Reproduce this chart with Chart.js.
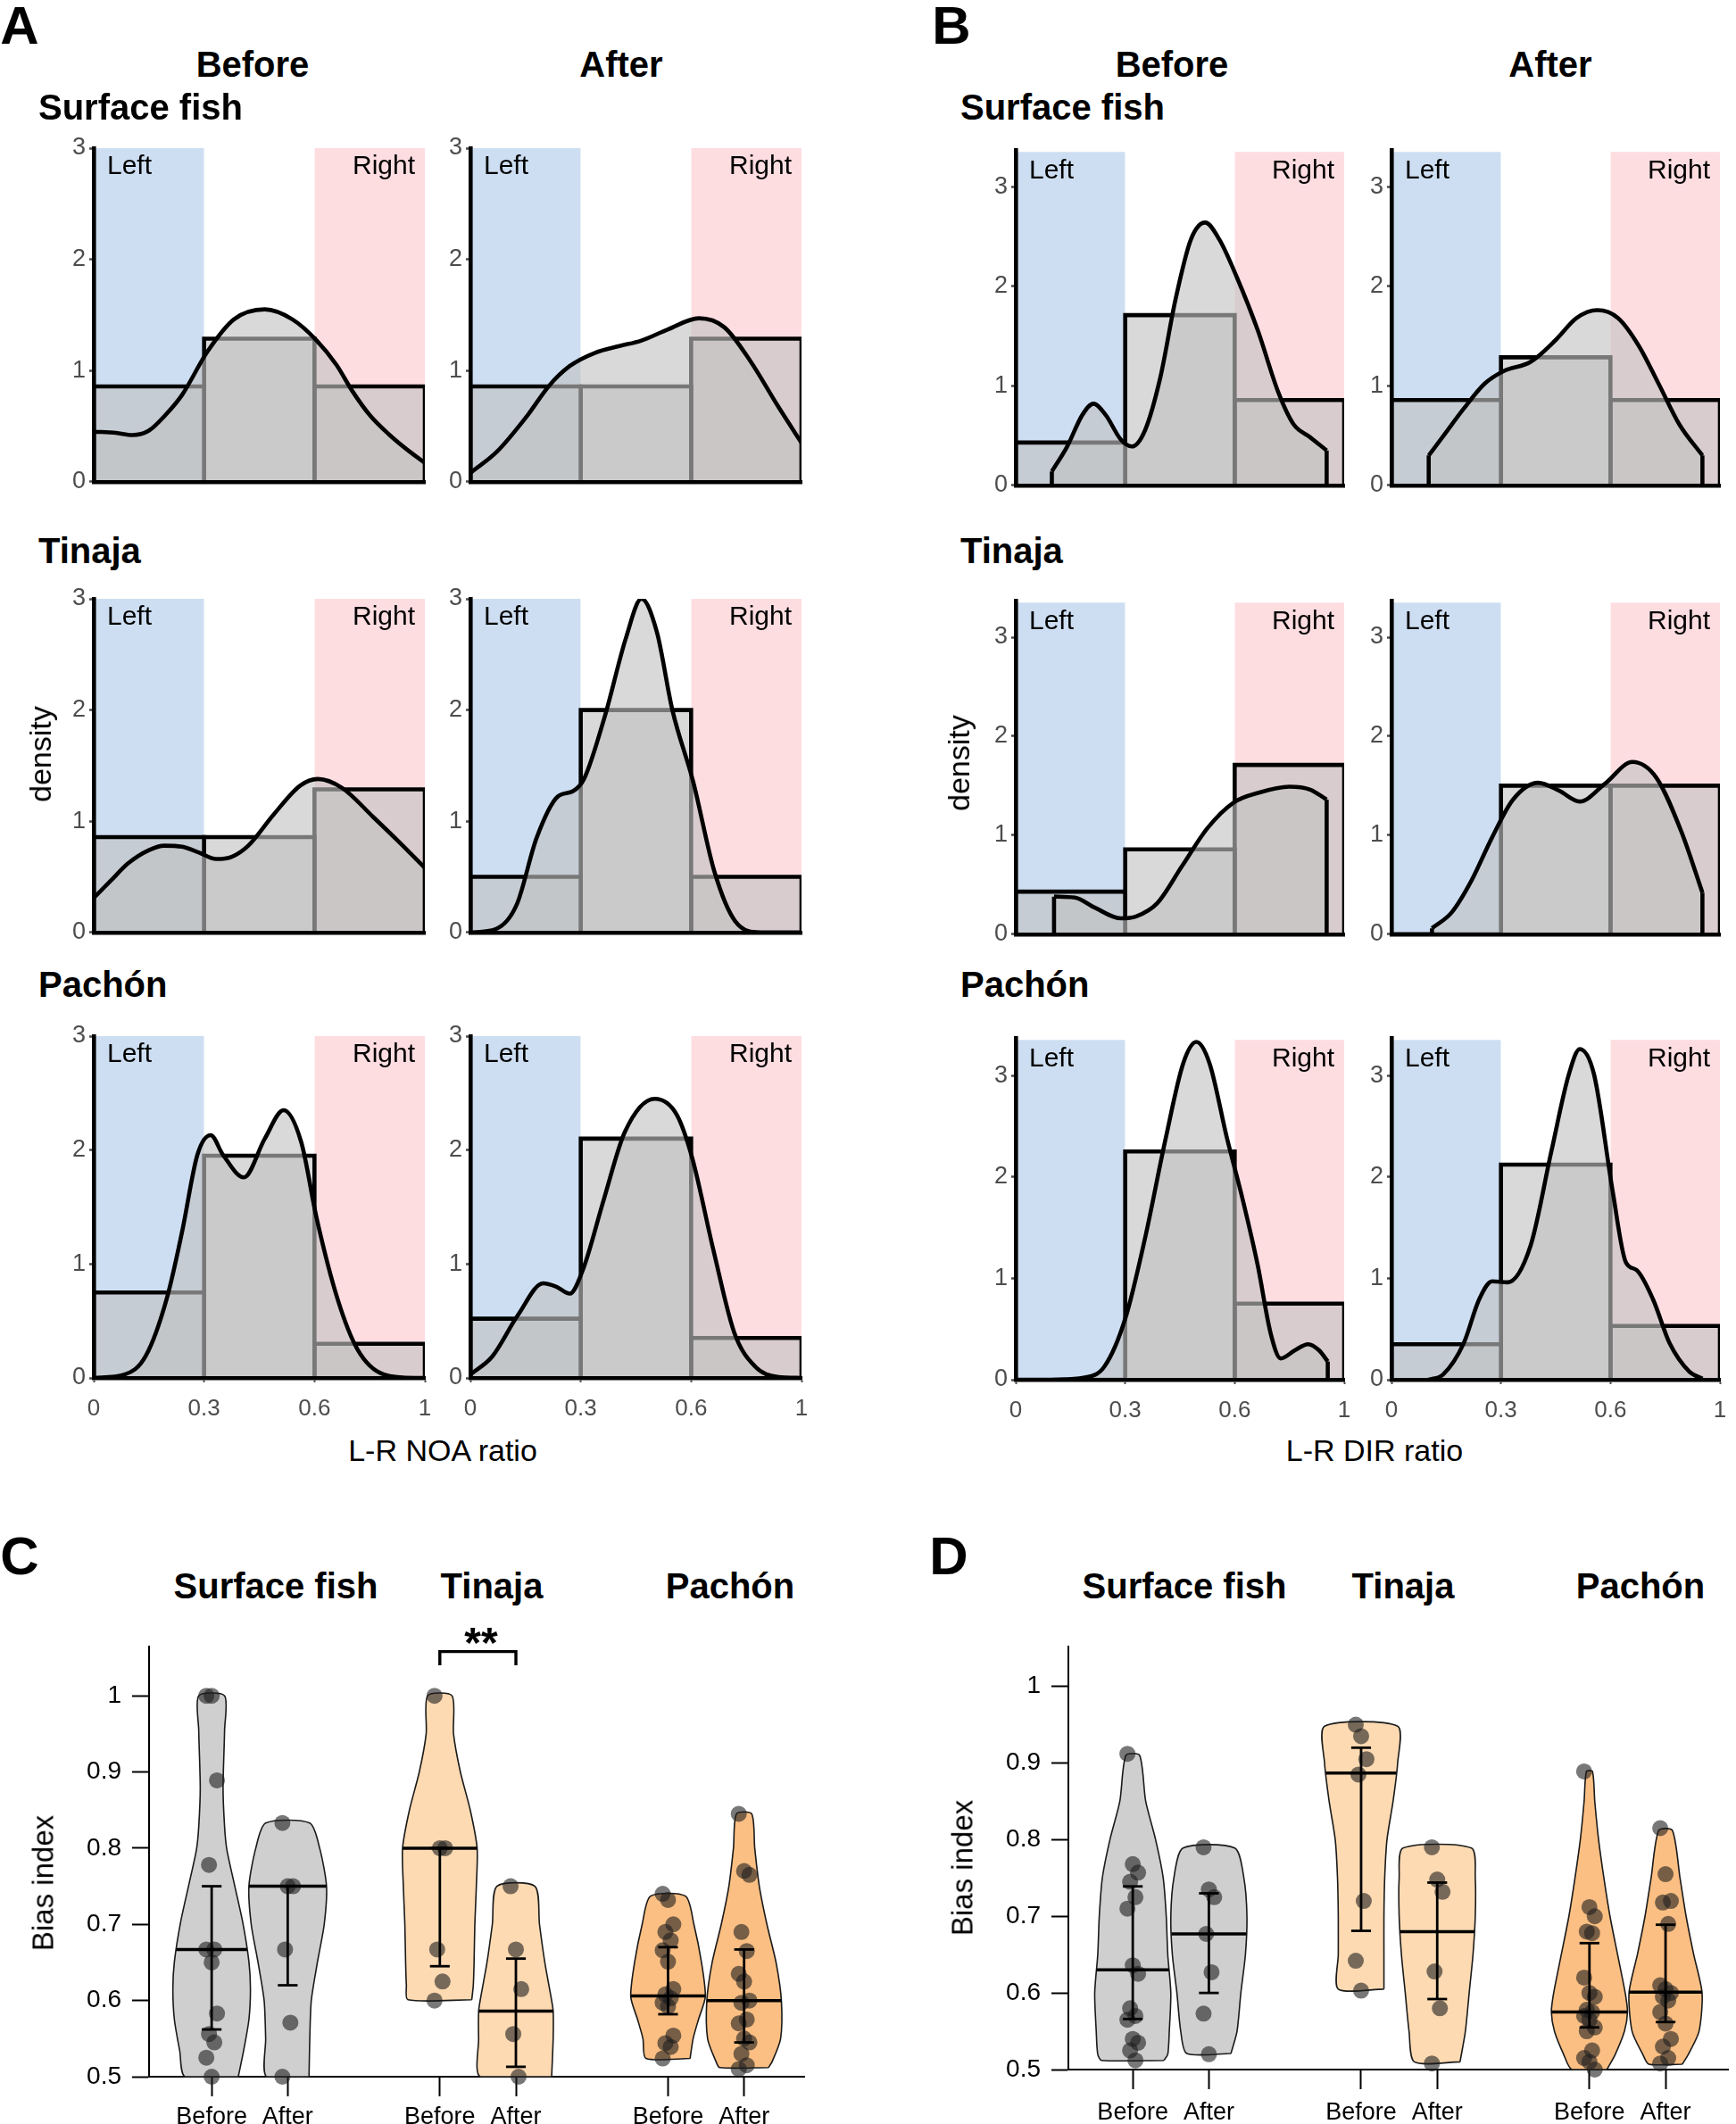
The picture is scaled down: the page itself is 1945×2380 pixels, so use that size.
<!DOCTYPE html>
<html><head><meta charset="utf-8">
<script src="https://cdn.jsdelivr.net/npm/chart.js@4.4.1/dist/chart.umd.min.js"></script>
<style>
html,body{margin:0;padding:0;background:#fff;}
#root{position:relative;width:1945px;height:2380px;overflow:hidden;background:#fff;font-family:"Liberation Sans",Arial,Helvetica,sans-serif;}
canvas{position:absolute;}
.t{position:absolute;white-space:nowrap;line-height:1;color:#000;}
</style></head><body><div id="root"></div>
<script>
// ===================== DATA =====================
// Histogram x axis: three equal-width bins with these edge labels
const binLabels = ['0', '0.3', '0.6', '1'];
const binEdges = [0, 1, 2, 3];
const regionNames = ['Left', 'Right'];
const histYTicks = [0, 1, 2, 3];

// Panel A (L-R NOA ratio): histogram densities per bin [left, middle, right]
const histA_surface_before = [0.857, 1.286, 0.857];
const histA_surface_after  = [0.857, 0.857, 1.286];
const histA_tinaja_before  = [0.857, 0.857, 1.286];
const histA_tinaja_after   = [0.5, 2.0, 0.5];
const histA_pachon_before  = [0.75, 1.95, 0.30];
const histA_pachon_after   = [0.52, 2.10, 0.35];
// Panel B (L-R DIR ratio)
const histB_surface_before = [0.43, 1.71, 0.857];
const histB_surface_after  = [0.857, 1.286, 0.857];
const histB_tinaja_before  = [0.43, 0.857, 1.71];
const histB_tinaja_after   = [0, 1.5, 1.5];
const histB_pachon_before  = [0, 2.25, 0.75];
const histB_pachon_after   = [0.35, 2.12, 0.53];

// Density curves [position on bin axis, density]
const densA_surface_before = [[0,0.45],[0.2,0.44],[0.35,0.42],[0.5,0.46],[0.65,0.6],[0.8,0.78],[1.03,1.17],[1.27,1.46],[1.55,1.55],[1.8,1.46],[2.02,1.27],[2.2,1.05],[2.34,0.82],[2.5,0.6],[2.67,0.43],[2.85,0.28],[3.0,0.17]];
const densA_surface_after  = [[0,0.08],[0.24,0.27],[0.52,0.6],[0.71,0.86],[0.9,1.04],[1.13,1.16],[1.35,1.22],[1.55,1.27],[1.79,1.37],[2.07,1.47],[2.3,1.39],[2.54,1.08],[2.78,0.69],[3.0,0.35]];
const densA_tinaja_before  = [[0,0.31],[0.15,0.46],[0.31,0.62],[0.5,0.74],[0.64,0.78],[0.8,0.77],[0.95,0.72],[1.11,0.66],[1.25,0.68],[1.4,0.78],[1.63,1.06],[1.87,1.32],[2.03,1.38],[2.25,1.3],[2.53,1.04],[2.77,0.81],[3.0,0.58]];
const densA_tinaja_after   = [[0,0],[0.23,0.03],[0.42,0.25],[0.6,0.85],[0.79,1.22],[0.93,1.27],[1.03,1.38],[1.22,1.95],[1.41,2.65],[1.55,3.0],[1.69,2.7],[1.83,2.0],[2.02,1.35],[2.21,0.55],[2.4,0.1],[2.63,0.0],[3.0,0.0]];
const densA_pachon_before  = [[0,0],[0.28,0.03],[0.47,0.19],[0.66,0.69],[0.8,1.28],[0.94,1.96],[1.06,2.13],[1.17,1.96],[1.36,1.76],[1.55,2.1],[1.72,2.35],[1.88,2.07],[2.02,1.4],[2.21,0.69],[2.39,0.25],[2.63,0.03],[2.91,0],[3,0]];
const densA_pachon_after   = [[0,0.03],[0.2,0.19],[0.43,0.55],[0.66,0.83],[0.78,0.8],[0.9,0.74],[1.02,0.95],[1.21,1.57],[1.4,2.16],[1.67,2.45],[1.87,2.31],[2.01,1.93],[2.2,1.13],[2.39,0.4],[2.58,0.1],[2.78,0.01],[3.0,0]];
const densB_surface_before = [[0.33,0.14],[0.47,0.39],[0.61,0.71],[0.71,0.82],[0.82,0.71],[0.96,0.46],[1.06,0.39],[1.18,0.55],[1.32,1.08],[1.46,1.87],[1.6,2.47],[1.73,2.64],[1.86,2.47],[2.02,2.09],[2.21,1.56],[2.4,0.93],[2.54,0.61],[2.68,0.49],[2.84,0.35]];
const densB_surface_after  = [[0.34,0.3],[0.47,0.49],[0.66,0.77],[0.85,1.02],[1.03,1.15],[1.27,1.24],[1.5,1.46],[1.69,1.68],[1.88,1.76],[2.07,1.68],[2.26,1.4],[2.44,1.02],[2.63,0.61],[2.84,0.3]];
const densB_tinaja_before  = [[0.35,0.38],[0.54,0.37],[0.72,0.27],[0.96,0.16],[1.1,0.18],[1.29,0.31],[1.52,0.69],[1.75,1.07],[1.99,1.33],[2.22,1.43],[2.5,1.49],[2.69,1.46],[2.84,1.36]];
const densB_tinaja_after   = [[0.37,0.06],[0.55,0.22],[0.73,0.54],[0.92,0.98],[1.11,1.36],[1.34,1.53],[1.53,1.45],[1.72,1.34],[1.95,1.52],[2.2,1.74],[2.42,1.58],[2.65,1.03],[2.84,0.42]];
const densB_pachon_before  = [[0.34,0.0],[0.62,0.02],[0.81,0.13],[1.0,0.6],[1.18,1.39],[1.37,2.38],[1.53,3.12],[1.65,3.33],[1.77,3.12],[1.93,2.38],[2.07,1.79],[2.21,1.13],[2.33,0.45],[2.42,0.21],[2.55,0.29],[2.67,0.35],[2.77,0.29],[2.85,0.18]];
const densB_pachon_after   = [[0.34,0.0],[0.47,0.05],[0.66,0.36],[0.8,0.79],[0.92,0.97],[1.06,0.96],[1.27,1.32],[1.46,2.25],[1.62,3.01],[1.72,3.26],[1.85,3.01],[2.02,1.86],[2.14,1.16],[2.24,1.08],[2.39,0.79],[2.54,0.36],[2.72,0.08],[2.84,0.01]];

// Panels C / D: categories
const catPos = [1, 2, 4, 5, 7, 8];
const catLabels = ['Before', 'After', 'Before', 'After', 'Before', 'After'];
const groupNames = ['Surface fish', 'Tinaja', 'Pachón'];
const biasTicks = [0.5, 0.6, 0.7, 0.8, 0.9, 1.0];

// Panel C: individual bias index values
const C_surface_before = [1.0, 1.0, 0.889, 0.778, 0.667, 0.667, 0.65, 0.583, 0.556, 0.545, 0.525, 0.5];
const C_surface_after  = [0.833, 0.75, 0.75, 0.667, 0.571, 0.5];
const C_tinaja_before  = [1.0, 0.8, 0.8, 0.667, 0.625, 0.6];
const C_tinaja_after   = [0.75, 0.667, 0.615, 0.556, 0.5];
const C_pachon_before  = [0.74, 0.732, 0.70, 0.69, 0.679, 0.666, 0.651, 0.615, 0.608, 0.603, 0.597, 0.592, 0.554, 0.544, 0.539, 0.524];
const C_pachon_after   = [0.845, 0.77, 0.765, 0.69, 0.665, 0.635, 0.625, 0.6, 0.597, 0.575, 0.57, 0.55, 0.545, 0.53, 0.515, 0.51];
// Panel C: [median, lower quartile, upper quartile]
const C_stats = [[0.667, 0.562, 0.75], [0.75, 0.62, 0.75], [0.8, 0.645, 0.8], [0.586, 0.513, 0.655], [0.606, 0.582, 0.67], [0.6, 0.545, 0.667]];
// Panel C: violin outlines (bias index level, half width)
const C_vY_surface_before = [0.5, 0.534, 0.575, 0.615, 0.651, 0.702, 0.752, 0.798, 0.828, 0.879, 0.955, 1.0];
const C_vW_surface_before = [0.35, 0.42, 0.49, 0.51, 0.49, 0.41, 0.30, 0.20, 0.17, 0.15, 0.17, 0.17];
const C_vY_surface_after  = [0.5, 0.55, 0.6, 0.65, 0.7, 0.75, 0.8, 0.833];
const C_vW_surface_after  = [0.28, 0.29, 0.31, 0.39, 0.48, 0.51, 0.42, 0.29];
const C_vY_tinaja_before  = [0.601, 0.62, 0.65, 0.7, 0.75, 0.8, 0.85, 0.9, 0.95, 1.0];
const C_vW_tinaja_before  = [0.42, 0.44, 0.45, 0.46, 0.48, 0.49, 0.40, 0.27, 0.18, 0.16];
const C_vY_tinaja_after   = [0.5, 0.55, 0.586, 0.6, 0.65, 0.7, 0.75];
const C_vW_tinaja_after   = [0.47, 0.49, 0.49, 0.47, 0.38, 0.31, 0.25];
const C_vY_pachon_before  = [0.524, 0.55, 0.575, 0.605, 0.65, 0.7, 0.737];
const C_vW_pachon_before  = [0.29, 0.33, 0.40, 0.49, 0.44, 0.34, 0.23];
const C_vY_pachon_after   = [0.512, 0.52, 0.55, 0.6, 0.65, 0.7, 0.75, 0.8, 0.845];
const C_vW_pachon_after   = [0.32, 0.37, 0.48, 0.49, 0.42, 0.30, 0.20, 0.14, 0.10];

// Panel D: individual bias index values
const D_surface_before = [0.912, 0.768, 0.757, 0.745, 0.725, 0.71, 0.636, 0.625, 0.58, 0.57, 0.565, 0.54, 0.535, 0.525, 0.512];
const D_surface_after  = [0.79, 0.735, 0.725, 0.677, 0.627, 0.573, 0.52];
const D_tinaja_before  = [0.95, 0.935, 0.905, 0.885, 0.72, 0.642, 0.603];
const D_tinaja_after   = [0.79, 0.748, 0.732, 0.628, 0.58, 0.508];
const D_pachon_before  = [0.889, 0.712, 0.70, 0.68, 0.678, 0.62, 0.60, 0.595, 0.578, 0.575, 0.57, 0.565, 0.555, 0.55, 0.525, 0.515, 0.51, 0.5];
const D_pachon_after   = [0.815, 0.755, 0.72, 0.718, 0.69, 0.61, 0.605, 0.6, 0.595, 0.59, 0.575, 0.56, 0.54, 0.53, 0.515, 0.508];
const D_stats = [[0.63, 0.566, 0.739], [0.677, 0.60, 0.73], [0.887, 0.681, 0.92], [0.68, 0.592, 0.744], [0.575, 0.555, 0.665], [0.601, 0.562, 0.689]];
const D_vY_surface_before = [0.512, 0.52, 0.55, 0.6, 0.65, 0.7, 0.75, 0.8, 0.85, 0.91];
const D_vW_surface_before = [0.41, 0.46, 0.48, 0.50, 0.46, 0.44, 0.40, 0.30, 0.17, 0.09];
const D_vY_surface_after  = [0.521, 0.55, 0.6, 0.65, 0.7, 0.75, 0.789];
const D_vW_surface_after  = [0.29, 0.37, 0.42, 0.48, 0.50, 0.46, 0.34];
const D_vY_tinaja_before  = [0.605, 0.65, 0.7, 0.75, 0.8, 0.85, 0.9, 0.948];
const D_vW_tinaja_before  = [0.30, 0.30, 0.30, 0.31, 0.34, 0.42, 0.48, 0.48];
const D_vY_tinaja_after   = [0.51, 0.55, 0.6, 0.65, 0.7, 0.75, 0.789];
const D_vW_tinaja_after   = [0.30, 0.37, 0.42, 0.47, 0.50, 0.50, 0.45];
const D_vY_pachon_before  = [0.5, 0.52, 0.55, 0.575, 0.6, 0.65, 0.7, 0.75, 0.8, 0.85, 0.889];
const D_vW_pachon_before  = [0.23, 0.34, 0.46, 0.50, 0.47, 0.37, 0.27, 0.19, 0.12, 0.07, 0.04];
const D_vY_pachon_after   = [0.507, 0.52, 0.55, 0.6, 0.65, 0.7, 0.75, 0.812];
const D_vW_pachon_after   = [0.22, 0.30, 0.44, 0.48, 0.37, 0.27, 0.19, 0.09];

// ===================== RENDERING =====================
const FONT = '"Liberation Sans", Arial, Helvetica, sans-serif';
Chart.defaults.font.family = FONT;
Chart.defaults.animation = false;
const root = document.getElementById('root');

const BLUE = 'rgb(206,222,242)';
const PINK = 'rgb(254,221,225)';
const GREYFILL = 'rgba(193,193,193,0.62)';
const TICKGREY = '#4d4d4d';
const LW = 4.6;

function addText(txt, x, y, o) {
  const d = document.createElement('div');
  d.className = 't';
  d.textContent = txt;
  d.style.fontSize = o.size + 'px';
  d.style.fontWeight = o.bold ? 'bold' : 'normal';
  d.style.left = x + 'px';
  d.style.top = y + 'px';
  let tf = o.align === 'left' ? 'translate(0,-50%)' : (o.align === 'top' ? 'translate(-50%,0)' : 'translate(-50%,-50%)');
  if (o.rotate) tf += ' rotate(' + o.rotate + 'deg)';
  d.style.transform = tf;
  root.appendChild(d);
}

function makeCanvas(area, pad) {
  const c = document.createElement('canvas');
  const w = area.r - area.l + pad.l + pad.r, h = area.b - area.t + pad.t + pad.b;
  c.width = w; c.height = h;
  c.style.left = (area.l - pad.l) + 'px';
  c.style.top = (area.t - pad.t) + 'px';
  c.style.width = w + 'px';
  c.style.height = h + 'px';
  root.appendChild(c);
  return c;
}

function histChart(area, o) {
  const pad = {l: 62, t: 26, r: 26, b: o.showX ? 60 : 12};
  const c = makeCanvas(area, pad);
  const ds = [];
  [[binEdges[0], binEdges[1], BLUE], [binEdges[2], binEdges[3], PINK]].forEach(([a, b, col]) => ds.push({
    data: [{x: a, y: 0}, {x: a, y: o.regionTop}, {x: b, y: o.regionTop}, {x: b, y: 0}],
    fill: 'origin', backgroundColor: col, borderColor: 'transparent', borderWidth: 0,
    pointRadius: 0, tension: 0, order: 5
  }));
  o.hist.forEach((h, i) => ds.push({
    data: [{x: binEdges[i], y: 0}, {x: binEdges[i], y: h}, {x: binEdges[i + 1], y: h}, {x: binEdges[i + 1], y: 0}],
    fill: 'origin', backgroundColor: GREYFILL, borderColor: '#000', borderWidth: LW,
    borderJoinStyle: 'miter', pointRadius: 0, tension: 0, order: 4
  }));
  const d = o.dens;
  ds.push({
    data: d.map(p => ({x: p[0], y: p[1]})),
    fill: 'origin', backgroundColor: GREYFILL, borderColor: '#000', borderWidth: LW,
    cubicInterpolationMode: 'monotone', pointRadius: 0, order: 3
  });
  [d[0], d[d.length - 1]].forEach(p => ds.push({
    data: [{x: p[0], y: 0}, {x: p[0], y: p[1]}],
    fill: false, borderColor: '#000', borderWidth: LW, pointRadius: 0, tension: 0, order: 2
  }));
  const labelPlugin = {
    id: 'regionLabels',
    afterDatasetsDraw(chart) {
      const {ctx, chartArea: a} = chart;
      ctx.save();
      ctx.font = '30px ' + FONT;
      ctx.fillStyle = '#000';
      ctx.textBaseline = 'middle';
      ctx.textAlign = 'left';
      ctx.fillText(regionNames[0], a.left + 15, a.top + o.labelDy);
      ctx.textAlign = 'right';
      ctx.fillText(regionNames[1], a.right - 11, a.top + o.labelDy);
      ctx.restore();
    }
  };
  new Chart(c, {
    type: 'line',
    data: {datasets: ds},
    plugins: [labelPlugin],
    options: {
      responsive: false, animation: false, events: [],
      layout: {padding: {left: 0, top: pad.t, right: pad.r, bottom: 0}},
      plugins: {legend: {display: false}, tooltip: {enabled: false}},
      scales: {
        x: {
          type: 'linear', min: binEdges[0], max: binEdges[3],
          afterBuildTicks: s => { s.ticks = binEdges.map(v => ({value: v})); },
          ticks: {display: o.showX, color: TICKGREY, font: {size: 26}, padding: 14, maxRotation: 0, autoSkip: false,
                  callback: v => binLabels[binEdges.indexOf(v)]},
          grid: {drawOnChartArea: false, drawTicks: o.showX, tickLength: 5, tickColor: TICKGREY, tickWidth: 2},
          border: {display: true, color: '#000', width: LW, z: 2},
          afterFit: s => { s.height = pad.b; }
        },
        y: {
          type: 'linear', min: 0, max: o.yMax,
          afterBuildTicks: s => { s.ticks = histYTicks.map(v => ({value: v})); },
          ticks: {color: TICKGREY, font: {size: 27}, padding: 4, autoSkip: false, callback: v => String(v)},
          grid: {drawOnChartArea: false, tickLength: 5, tickColor: TICKGREY, tickWidth: 2.5},
          border: {display: true, color: '#000', width: LW, z: 2},
          afterFit: s => { s.width = pad.l; }
        }
      }
    }
  });
}

function widthAt(py, pw, y) {
  if (y <= py[0]) return pw[0];
  for (let i = 1; i < py.length; i++) {
    if (y <= py[i]) { const f = (y - py[i - 1]) / (py[i] - py[i - 1]); return pw[i - 1] + f * (pw[i] - pw[i - 1]); }
  }
  return pw[pw.length - 1];
}
const jit = i => (((i * 7) % 5) - 2) * 0.035;

function violinChart(area, o) {
  const pad = {l: 110, t: 45, r: 0, b: 2380 - area.b};
  const c = makeCanvas(area, pad);
  const ds = [];
  o.groups.forEach((g, gi) => {
    const pos = catPos[gi];
    const poly = [];
    for (let i = 0; i < g.vy.length; i++) poly.push({x: pos + g.vw[i], y: g.vy[i]});
    for (let i = g.vy.length - 1; i >= 0; i--) poly.push({x: pos - g.vw[i], y: g.vy[i]});
    poly.push(poly[0]);
    ds.push({data: poly, fill: 'shape', backgroundColor: g.color, borderColor: '#1a1a1a', borderWidth: 1.6,
             pointRadius: 0, tension: 0.25, order: 4, clip: false});
    ds.push({data: g.pts.map((v, i) => ({x: pos + jit(i), y: v})), showLine: false, pointRadius: 9,
             pointBackgroundColor: 'rgba(30,30,30,0.6)', pointBorderColor: 'transparent', pointBorderWidth: 0,
             order: 3, clip: false});
    const [med, lo, hi] = g.stats;
    const cap = 0.13;
    [[{x: pos, y: lo}, {x: pos, y: hi}], [{x: pos - cap, y: hi}, {x: pos + cap, y: hi}], [{x: pos - cap, y: lo}, {x: pos + cap, y: lo}]]
      .forEach(seg => ds.push({data: seg, borderColor: '#000', borderWidth: 2.8, pointRadius: 0, fill: false, order: 2, clip: false}));
    const wm = widthAt(g.vy, g.vw, med);
    ds.push({data: [{x: pos - wm, y: med}, {x: pos + wm, y: med}], borderColor: '#000', borderWidth: 3.5,
             pointRadius: 0, fill: false, order: 1, clip: false});
  });
  if (o.bracket) {
    const [a, b, yl, yh] = o.bracket;
    ds.push({data: [{x: a, y: yl}, {x: a, y: yh}, {x: b, y: yh}, {x: b, y: yl}], borderColor: '#000', borderWidth: 3.4,
             borderJoinStyle: 'miter', pointRadius: 0, fill: false, tension: 0, order: 1, clip: false});
  }
  new Chart(c, {
    type: 'line',
    data: {datasets: ds},
    options: {
      responsive: false, animation: false, events: [],
      layout: {padding: {left: 0, top: pad.t, right: pad.r, bottom: 0}},
      plugins: {legend: {display: false}, tooltip: {enabled: false}},
      scales: {
        x: {
          type: 'linear', min: o.xMin, max: o.xMax,
          afterBuildTicks: s => { s.ticks = catPos.map(v => ({value: v})); },
          ticks: {color: '#000', font: {size: 27}, padding: o.xPad, maxRotation: 0, autoSkip: false,
                  callback: v => catLabels[catPos.indexOf(v)]},
          grid: {drawOnChartArea: false, tickLength: 22, tickColor: '#000', tickWidth: 2},
          border: {display: true, color: '#000', width: 2},
          afterFit: s => { s.height = pad.b; }
        },
        y: {
          type: 'linear', min: 0.5, max: o.yMax,
          afterBuildTicks: s => { s.ticks = biasTicks.map(v => ({value: v})); },
          ticks: {color: '#000', font: {size: 28}, padding: 12, autoSkip: false,
                  callback: v => String(Math.round(v * 10) / 10)},
          grid: {drawOnChartArea: false, tickLength: 19, tickColor: '#000', tickWidth: 2},
          border: {display: true, color: '#000', width: 2},
          afterFit: s => { s.width = pad.l; }
        }
      }
    }
  });
}

// ---------- Panels A & B ----------
const colsA = [{l: 105, r: 476}, {l: 527, r: 898}];
const colsB = [{l: 1138, r: 1506}, {l: 1559, r: 1927}];
const rowsA = [{t: 166, b: 548}, {t: 671, b: 1053}, {t: 1161, b: 1544}];
const rowsB = [{t: 168, b: 552}, {t: 673, b: 1055}, {t: 1163, b: 1546}];
const histA = [[histA_surface_before, histA_surface_after], [histA_tinaja_before, histA_tinaja_after], [histA_pachon_before, histA_pachon_after]];
const densA = [[densA_surface_before, densA_surface_after], [densA_tinaja_before, densA_tinaja_after], [densA_pachon_before, densA_pachon_after]];
const histB = [[histB_surface_before, histB_surface_after], [histB_tinaja_before, histB_tinaja_after], [histB_pachon_before, histB_pachon_after]];
const densB = [[densB_surface_before, densB_surface_after], [densB_tinaja_before, densB_tinaja_after], [densB_pachon_before, densB_pachon_after]];

for (let r = 0; r < 3; r++) for (let ci = 0; ci < 2; ci++) {
  histChart({l: colsA[ci].l, r: colsA[ci].r, t: rowsA[r].t, b: rowsA[r].b},
    {yMax: 3, regionTop: 3, hist: histA[r][ci], dens: densA[r][ci], showX: r === 2, labelDy: 21});
  histChart({l: colsB[ci].l, r: colsB[ci].r, t: rowsB[r].t, b: rowsB[r].b},
    {yMax: 3.37, regionTop: 3.35, hist: histB[r][ci], dens: densB[r][ci], showX: r === 2, labelDy: 24});
}

// ---------- Panels C & D ----------
const CLR = {grey: 'rgb(207,207,207)', tin: 'rgb(253,218,178)', pac: 'rgb(251,191,131)'};
violinChart({l: 167, r: 910, t: 1845, b: 2327}, {
  xMin: 0.177, xMax: 8.79, yMax: 1.0646, xPad: 7, bracket: [4, 5, 1.04, 1.058],
  groups: [
    {vy: C_vY_surface_before, vw: C_vW_surface_before, pts: C_surface_before, stats: C_stats[0], color: CLR.grey},
    {vy: C_vY_surface_after, vw: C_vW_surface_after, pts: C_surface_after, stats: C_stats[1], color: CLR.grey},
    {vy: C_vY_tinaja_before, vw: C_vW_tinaja_before, pts: C_tinaja_before, stats: C_stats[2], color: CLR.tin},
    {vy: C_vY_tinaja_after, vw: C_vW_tinaja_after, pts: C_tinaja_after, stats: C_stats[3], color: CLR.tin},
    {vy: C_vY_pachon_before, vw: C_vW_pachon_before, pts: C_pachon_before, stats: C_stats[4], color: CLR.pac},
    {vy: C_vY_pachon_after, vw: C_vW_pachon_after, pts: C_pachon_after, stats: C_stats[5], color: CLR.pac}
  ]
});
violinChart({l: 1197, r: 1945, t: 1845, b: 2319}, {
  xMin: 0.154, xMax: 8.82, yMax: 1.052, xPad: 10,
  groups: [
    {vy: D_vY_surface_before, vw: D_vW_surface_before, pts: D_surface_before, stats: D_stats[0], color: CLR.grey},
    {vy: D_vY_surface_after, vw: D_vW_surface_after, pts: D_surface_after, stats: D_stats[1], color: CLR.grey},
    {vy: D_vY_tinaja_before, vw: D_vW_tinaja_before, pts: D_tinaja_before, stats: D_stats[2], color: CLR.tin},
    {vy: D_vY_tinaja_after, vw: D_vW_tinaja_after, pts: D_tinaja_after, stats: D_stats[3], color: CLR.tin},
    {vy: D_vY_pachon_before, vw: D_vW_pachon_before, pts: D_pachon_before, stats: D_stats[4], color: CLR.pac},
    {vy: D_vY_pachon_after, vw: D_vW_pachon_after, pts: D_pachon_after, stats: D_stats[5], color: CLR.pac}
  ]
});

// ---------- Text ----------
addText('A', 22, 29, {size: 60, bold: true});
addText('B', 1066, 29, {size: 60, bold: true});
addText('C', 22, 1744, {size: 60, bold: true});
addText('D', 1063, 1744, {size: 60, bold: true});
addText('Before', 283, 72, {size: 40, bold: true});
addText('After', 696, 72, {size: 40, bold: true});
addText('Before', 1313, 72, {size: 40, bold: true});
addText('After', 1737, 72, {size: 40, bold: true});
const rowTitleY = [120, 617, 1103];
groupNames.forEach((n, i) => {
  addText(n, 43, rowTitleY[i], {size: 40, bold: true, align: 'left'});
  addText(n, 1076, rowTitleY[i], {size: 40, bold: true, align: 'left'});
});
addText('density', 45, 845, {size: 34, rotate: -90});
addText('density', 1074, 855, {size: 34, rotate: -90});
addText('L-R NOA ratio', 496, 1625, {size: 34});
addText('L-R DIR ratio', 1540, 1625, {size: 34});
const cTitleX = [309, 551, 818], dTitleX = [1327, 1572, 1838];
groupNames.forEach((n, i) => {
  addText(n, cTitleX[i], 1777, {size: 40, bold: true});
  addText(n, dTitleX[i], 1777, {size: 40, bold: true});
});
addText('Bias index', 48, 2110, {size: 33, rotate: -90});
addText('Bias index', 1078, 2093, {size: 33, rotate: -90});
addText('**', 539, 1817, {size: 48, bold: true, align: 'top'});
</script></body></html>
